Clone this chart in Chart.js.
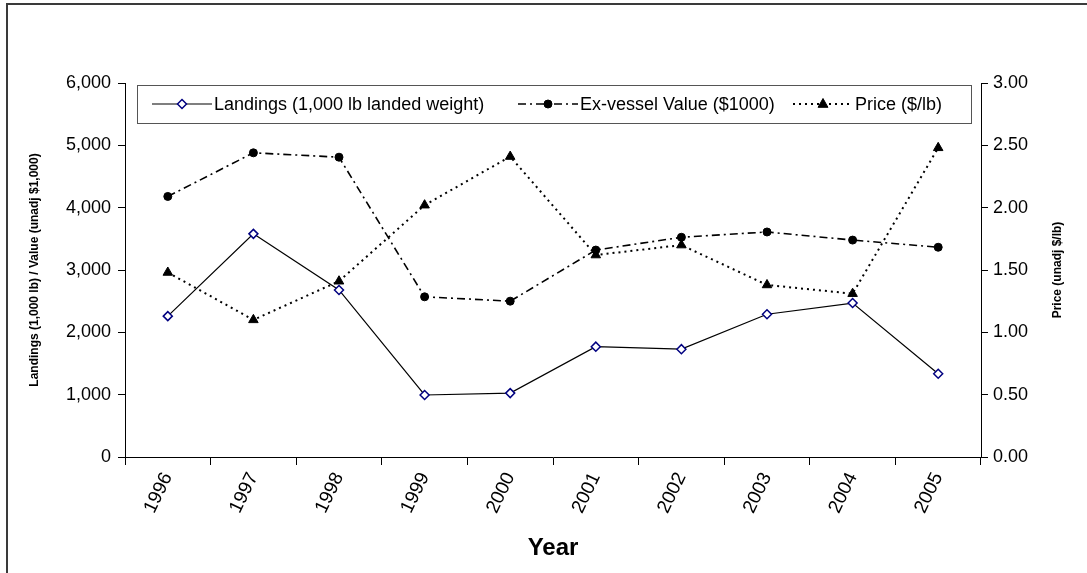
<!DOCTYPE html>
<html>
<head>
<meta charset="utf-8">
<script src="https://cdn.jsdelivr.net/npm/chart.js@4/dist/chart.umd.min.js"></script>
<style>
  html, body { margin: 0; padding: 0; background: #fff; }
  #wrap { width: 1087px; height: 573px; position: relative; }
</style>
</head>
<body>
<div id="wrap"><canvas id="canvas1"></canvas></div>
<script>
const years = ['1996', '1997', '1998', '1999', '2000', '2001', '2002', '2003', '2004', '2005'];
const landings = [2260, 3580, 2680, 995, 1025, 1770, 1730, 2290, 2470, 1335];
const exVessel = [4180, 4880, 4810, 2570, 2500, 3320, 3525, 3610, 3480, 3365];
const price = [1.48, 1.10, 1.41, 2.02, 2.41, 1.62, 1.70, 1.38, 1.31, 2.48];

const leftTicks = [0, 1000, 2000, 3000, 4000, 5000, 6000];
const rightTicks = [0, 0.5, 1, 1.5, 2, 2.5, 3];

const FONT = "'Liberation Sans', Arial, sans-serif";

// legend + frame + right title, drawn on the canvas
const extras = {
    id: 'extras',
    afterDatasetsDraw(chart) {
        const c = chart.ctx;
        c.save();
        // legend box
        c.fillStyle = '#fff';
        c.fillRect(137.5, 85.5, 834, 38);
        c.strokeStyle = '#555';
        c.lineWidth = 1;
        c.setLineDash([]);
        c.strokeRect(137.5, 85.5, 834, 38);
        const itemX = [152, 518, 793];
        const ly = 104;
        chart.data.datasets.forEach((ds, i) => {
            const x = itemX[i];
            c.strokeStyle = ds.borderColor;
            c.lineWidth = ds.borderWidth;
            c.setLineDash(ds.borderDash || []);
            c.beginPath();
            c.moveTo(x, ly);
            c.lineTo(x + 60, ly);
            c.stroke();
            c.setLineDash([]);
            drawMarker(c, ds, x + 30, ly);
            c.fillStyle = '#000';
            c.font = '18px ' + FONT;
            c.textBaseline = 'middle';
            c.textAlign = 'left';
            c.fillText(ds.label, x + 62, ly + 1);
        });
        c.restore();
    },
    afterDraw(chart) {
        const c = chart.ctx;
        c.save();
        c.strokeStyle = '#3a3a3a';
        c.lineWidth = 2;
        c.strokeRect(7, 4, 2000, 2000);
        // right axis title, reads bottom to top
        c.translate(1058, 270);
        c.rotate(-Math.PI / 2);
        c.font = 'bold 12px ' + FONT;
        c.fillStyle = '#000';
        c.textAlign = 'center';
        c.textBaseline = 'middle';
        c.fillText('Price (unadj $/lb)', 0, 0);
        c.restore();
    }
};

function drawMarker(c, ds, x, y) {
    const r = ds.pointRadius;
    c.beginPath();
    if (ds.pointStyle === 'rectRot') {
        c.moveTo(x, y - r); c.lineTo(x + r, y); c.lineTo(x, y + r); c.lineTo(x - r, y); c.closePath();
    } else if (ds.pointStyle === 'triangle') {
        c.moveTo(x, y - r); c.lineTo(x + r * 0.9, y + r * 0.6); c.lineTo(x - r * 0.9, y + r * 0.6); c.closePath();
    } else {
        c.arc(x, y, r, 0, Math.PI * 2);
    }
    c.fillStyle = ds.pointBackgroundColor;
    c.fill();
    c.strokeStyle = ds.pointBorderColor;
    c.lineWidth = ds.pointBorderWidth;
    c.stroke();
}

const data1 = {
    labels: years,
    datasets: [{
        label: 'Landings (1,000 lb landed weight)',
        data: landings,
        yAxisID: 'y',
        borderColor: '#000',
        borderWidth: 1.2,
        borderDash: [],
        pointStyle: 'rectRot',
        pointRadius: 4.5,
        pointBackgroundColor: '#fff',
        pointBorderColor: '#000080',
        pointBorderWidth: 1.5,
        tension: 0
    }, {
        label: 'Ex-vessel Value ($1000)',
        data: exVessel,
        yAxisID: 'y',
        borderColor: '#000',
        borderWidth: 1.6,
        borderDash: [8, 4, 2, 4],
        pointStyle: 'circle',
        pointRadius: 4,
        pointBackgroundColor: '#000',
        pointBorderColor: '#000',
        pointBorderWidth: 1,
        tension: 0
    }, {
        label: 'Price ($/lb)',
        data: price,
        yAxisID: 'y1',
        borderColor: '#000',
        borderWidth: 2,
        borderDash: [2, 4],
        pointStyle: 'triangle',
        pointRadius: 5.5,
        pointBackgroundColor: '#000',
        pointBorderColor: '#000',
        pointBorderWidth: 1,
        tension: 0
    }]
};

const c1 = new Chart(document.getElementById('canvas1'), {
    type: 'line',
    data: data1,
    plugins: [extras],
    options: {
        responsive: true,
        maintainAspectRatio: false,
        animation: false,
        layout: { padding: { top: 83, left: 0, right: 0, bottom: 0 } },
        plugins: {
            legend: { display: false },
            tooltip: { enabled: false }
        },
        scales: {
            x: {
                offset: true,
                grid: { offset: true, drawOnChartArea: false, tickLength: 8, color: '#000' },
                border: { color: '#000', width: 1 },
                ticks: {
                    color: '#000',
                    font: { family: FONT, size: 19 },
                    minRotation: 64,
                    maxRotation: 64,
                    padding: 4
                },
                title: {
                    display: true,
                    text: 'Year',
                    color: '#000',
                    font: { family: FONT, size: 24, weight: 'bold' },
                    padding: { top: 0, bottom: 10 }
                },
                afterFit(scale) { scale.height = 116; }
            },
            y: {
                position: 'left',
                min: 0,
                max: 6000,
                grid: { drawOnChartArea: false, tickLength: 7, color: '#000' },
                border: { color: '#000', width: 1 },
                afterBuildTicks(scale) { scale.ticks = leftTicks.map(v => ({ value: v })); },
                ticks: {
                    color: '#000',
                    font: { family: FONT, size: 18 },
                    padding: 7,
                    callback: v => v.toLocaleString('en-US')
                },
                title: {
                    display: true,
                    text: 'Landings (1,000 lb) / Value (unadj $1,000)',
                    color: '#000',
                    font: { family: FONT, size: 12, weight: 'bold' },
                    padding: { top: 27, bottom: 0 }
                },
                afterFit(scale) { scale.width = 125; }
            },
            y1: {
                position: 'right',
                min: 0,
                max: 3,
                grid: { drawOnChartArea: false, tickLength: 7, color: '#000' },
                border: { color: '#000', width: 1 },
                afterBuildTicks(scale) { scale.ticks = rightTicks.map(v => ({ value: v })); },
                ticks: {
                    color: '#000',
                    font: { family: FONT, size: 18 },
                    padding: 5,
                    callback: v => v.toFixed(2)
                },
                afterFit(scale) { scale.width = 106; }
            }
        }
    }
});
</script>
</body>
</html>
